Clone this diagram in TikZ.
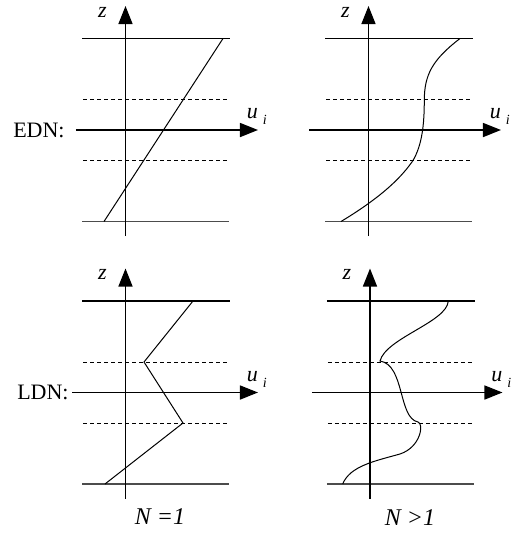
\documentclass[tikz,border=0pt]{standalone}
\usepackage{fontspec}
\setmainfont{Liberation Serif}[ItalicFont={Liberation Serif Italic}]
\usetikzlibrary{arrows.meta}

\begin{document}
\begin{tikzpicture}[x=0.5pt,y=-0.5pt,
    ax/.style={black,line width=0.75pt,-{Triangle[length=9pt,width=7pt]}},
    bound/.style={black,line width=0.6pt},
    lvl/.style={black,line width=0.5pt,dash pattern=on 2pt off 1.5pt},
    prof/.style={black,line width=0.5pt},
    lab/.style={inner sep=0pt,font=\fontsize{11}{13}\selectfont}
  ]
  \useasboundingbox (0,0) rectangle (526,538);
  % Panels: name/origin x/origin y/left end of u axis
  \foreach \p/\ox/\oy/\ul in {ea/125.5/130/49.5, eb/368.5/130/59, la/125.5/392.5/53, lb/370/392.5/58} {
    \begin{scope}[shift={(\ox,\oy)}]
      % layer bounds and levels
      \draw[bound] (-43,-91.5) -- (105,-91.5);
      \draw[bound,black!70] (-43,91.5) -- (104,91.5);
      \draw[lvl] (-42,-30.5) -- (103,-30.5);
      \draw[lvl] (-42,30.5) -- (102,30.5);
      % axes
      \coordinate (\p-zb) at (0,106);
      \coordinate (\p-zt) at (0,-124);
      \coordinate (\p-ul) at (-\ul,0);
      \coordinate (\p-ur) at (132.5,0);
      \draw[ax] (\p-zb) -- (\p-zt);
      \draw[ax] (\p-ul) -- (\p-ur);
      \node[lab] (\p-z) at (-23,-118) {\textit{z}};
      \node[lab,anchor=base west] (\p-u) at (121,-11.5)
        {\textit{u}\hspace{2.5pt}\raisebox{-3pt}{\fontsize{7}{8}\selectfont\textit{i}}};
    \end{scope}
  }
  % row and column labels
  \node[lab,anchor=east] (edn) at (65,130) {EDN:};
  \node[lab,anchor=east] (ldn) at (69,392.5) {LDN:};
  \node[lab,font=\fontsize{12}{14}\selectfont] (n1) at (160,517) {\textit{N =1}};
  \node[lab,font=\fontsize{12}{14}\selectfont] (n2) at (410,518) {\textit{N >1}};
  % velocity profiles
  \draw[prof] (223,38.5) -- (104,221.5);
  \draw[prof] (193,301) -- (144,362) -- (183,423) -- (105,484);
  \draw[prof] (460,38.5) .. controls (432,60) and (424.5,75) .. (424.3,100)
    .. controls (424.3,125) and (422,145) .. (413,160.5)
    .. controls (403,175) and (385,195) .. (341,221.5);
  \draw[prof] (448.3,301) .. controls (447,322) and (386,338) .. (380,361)
    .. controls (405,365) and (398,418) .. (418,422)
    .. controls (424,423.5) and (421,447) .. (400,454)
    .. controls (375,461) and (350,466) .. (342.7,484);
\end{tikzpicture}
\end{document}
